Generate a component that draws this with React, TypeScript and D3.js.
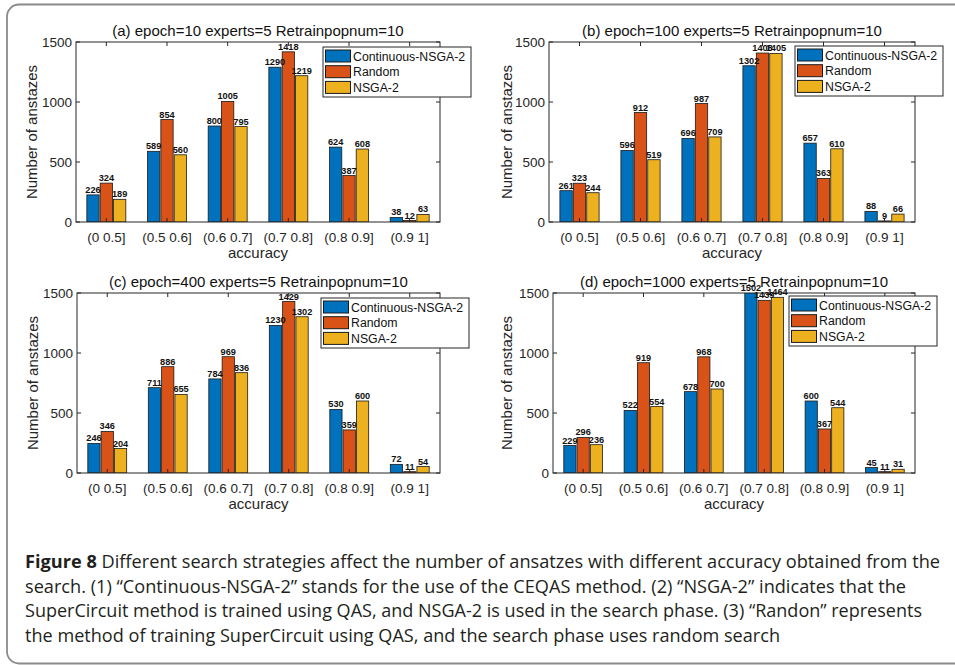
import React from "react";
import * as d3 from "d3";

const categories = ["(0 0.5]", "(0.5 0.6]", "(0.6 0.7]", "(0.7 0.8]", "(0.8 0.9]", "(0.9 1]"];
const seriesNames = ["Continuous-NSGA-2", "Random", "NSGA-2"];
const seriesColors = ["#0072BD", "#D95319", "#EDB120"];
const yTicks = [0, 500, 1000, 1500];
const yMax = 1500;

const panelTitles = [
  "(a) epoch=10 experts=5 Retrainpopnum=10",
  "(b) epoch=100 experts=5 Retrainpopnum=10",
  "(c) epoch=400 experts=5 Retrainpopnum=10",
  "(d) epoch=1000 experts=5 Retrainpopnum=10",
];

const contA = [226, 589, 800, 1290, 624, 38];
const randA = [324, 854, 1005, 1418, 387, 12];
const nsgaA = [189, 560, 795, 1219, 608, 63];

const contB = [261, 596, 696, 1302, 657, 88];
const randB = [323, 912, 987, 1408, 363, 9];
const nsgaB = [244, 519, 709, 1405, 610, 66];

const contC = [246, 711, 784, 1230, 530, 72];
const randC = [346, 886, 969, 1429, 359, 11];
const nsgaC = [204, 655, 836, 1302, 600, 54];

const contD = [229, 522, 678, 1502, 600, 45];
const randD = [296, 919, 968, 1439, 367, 11];
const nsgaD = [236, 554, 700, 1464, 544, 31];

const panelData = [
  [contA, randA, nsgaA],
  [contB, randB, nsgaB],
  [contC, randC, nsgaC],
  [contD, randD, nsgaD],
];

const xLabel = "accuracy";
const yLabel = "Number of anstazes";

const captionLines = [
  { bold: "Figure 8", text: "  Different search strategies affect the number of ansatzes with different accuracy obtained from the" },
  { bold: "", text: "search. (1) \u201CContinuous-NSGA-2\u201D stands for the use of the CEQAS method. (2) \u201CNSGA-2\u201D indicates that the" },
  { bold: "", text: "SuperCircuit method is trained using QAS, and NSGA-2 is used in the search phase. (3) \u201CRandon\u201D represents" },
  { bold: "", text: "the method of training SuperCircuit using QAS, and the search phase uses random search" },
];

// layout
const layouts = [
  { left: 76, right: 440, top: 42, bottom: 222, lx: 323, ly: 47, ylx: 36.5 },
  { left: 549, right: 915, top: 42, bottom: 222, lx: 795, ly: 46, ylx: 512 },
  { left: 77, right: 440, top: 293, bottom: 473, lx: 321, ly: 298, ylx: 37.5 },
  { left: 553, right: 915, top: 293, bottom: 473, lx: 789, ly: 296, ylx: 512 },
];
const captionLayout = [
  { y: 568, len: 915 },
  { y: 593, len: 881 },
  { y: 617, len: 897 },
  { y: 642, len: 755 },
];

const AX = "#262626";
const FONT = "'Liberation Sans', Arial, sans-serif";

function Panel({ idx }: { idx: number }) {
  const L = layouts[idx];
  const data = panelData[idx];
  const x = d3.scaleBand<string>().domain(categories).range([L.left, L.right]).padding(0);
  const bw = x.bandwidth();
  const slot = bw * 0.22;
  const xs = d3
    .scaleBand<string>()
    .domain(seriesNames)
    .range([-1.5 * slot, 1.5 * slot])
    .paddingInner(0.08)
    .paddingOuter(0.04);
  const y = d3.scaleLinear().domain([0, yMax]).range([L.bottom, L.top]);
  const clipId = `clip${idx}`;
  const tl = 4;
  const cx = (L.left + L.right) / 2;
  return (
    <g>
      <defs>
        <clipPath id={clipId}>
          <rect x={L.left} y={L.top} width={L.right - L.left} height={L.bottom - L.top} />
        </clipPath>
      </defs>
      <g clipPath={`url(#${clipId})`}>
        {seriesNames.map((s, si) =>
          categories.map((c, ci) => {
            const v = data[si][ci];
            const x0 = (x(c) as number) + bw / 2 + (xs(s) as number);
            return (
              <rect
                key={s + c}
                x={x0}
                y={y(v)}
                width={xs.bandwidth()}
                height={L.bottom - y(v)}
                fill={seriesColors[si]}
                stroke="#1a1a1a"
                strokeWidth={0.8}
              />
            );
          })
        )}
      </g>
      {/* axes box */}
      <rect x={L.left} y={L.top} width={L.right - L.left} height={L.bottom - L.top} fill="none" stroke={AX} strokeWidth={1} />
      {yTicks.map((t) => (
        <g key={"yt" + t}>
          <line x1={L.left} x2={L.left + tl} y1={y(t)} y2={y(t)} stroke={AX} />
          <line x1={L.right} x2={L.right - tl} y1={y(t)} y2={y(t)} stroke={AX} />
          <text x={L.left - 4} y={y(t) + 5} textAnchor="end" fontSize={13.5} fill={AX} fontFamily={FONT}>
            {t}
          </text>
        </g>
      ))}
      {categories.map((c) => {
        const xc = (x(c) as number) + bw / 2;
        return (
          <g key={"xt" + c}>
            <line x1={xc} x2={xc} y1={L.bottom} y2={L.bottom - tl} stroke={AX} />
            <line x1={xc} x2={xc} y1={L.top} y2={L.top + tl} stroke={AX} />
            <text x={xc} y={L.bottom + 19.5} textAnchor="middle" fontSize={13.5} fill={AX} fontFamily={FONT}>
              {c}
            </text>
          </g>
        );
      })}
      {/* bar labels */}
      {seriesNames.map((s, si) =>
        categories.map((c, ci) => {
          const v = data[si][ci];
          const xc = (x(c) as number) + bw / 2 + (xs(s) as number) + xs.bandwidth() / 2;
          return (
            <text
              key={"bl" + s + c}
              x={xc}
              y={y(v) - 2}
              textAnchor="middle"
              fontSize={9.2}
              fontWeight="bold"
              fill="#111"
              fontFamily={FONT}
            >
              {v}
            </text>
          );
        })
      )}
      <text x={cx} y={L.top - 6} textAnchor="middle" fontSize={15} fill="#111" fontFamily={FONT}>
        {panelTitles[idx]}
      </text>
      <text x={cx} y={L.bottom + 36} textAnchor="middle" fontSize={15} fill={AX} fontFamily={FONT}>
        {xLabel}
      </text>
      <text
        transform={`translate(${L.ylx},${(L.top + L.bottom) / 2}) rotate(-90)`}
        textAnchor="middle"
        fontSize={15}
        fill={AX}
        fontFamily={FONT}
      >
        {yLabel}
      </text>
      {/* legend */}
      <g transform={`translate(${L.lx},${L.ly})`}>
        <rect x={0} y={0} width={148} height={50} fill="white" stroke={AX} strokeWidth={1} />
        {seriesNames.map((s, si) => (
          <g key={"lg" + s} transform={`translate(0,${9 + si * 15.7})`}>
            <rect x={2.5} y={-6} width={25} height={12} fill={seriesColors[si]} stroke="#1a1a1a" strokeWidth={1} />
            <text x={30} y={4.5} fontSize={12.3} fill="#111" fontFamily={FONT}>
              {s}
            </text>
          </g>
        ))}
      </g>
    </g>
  );
}

export default function App() {
  return (
    <svg
      width={955}
      height={665}
      style={{ position: "absolute", left: 0, top: 0, background: "white" }}
      viewBox="0 0 955 665"
    >
      <rect x={0} y={0} width={955} height={665} fill="white" />
      <rect x={7} y={4.5} width={980} height={659} rx={12} ry={12} fill="none" stroke="#8a8a8a" strokeWidth={1.8} />
      {layouts.map((_, i) => (
        <Panel key={i} idx={i} />
      ))}
      {captionLines.map((ln, i) => (
        <text
          key={"cap" + i}
          x={25}
          y={captionLayout[i].y}
          fontSize={18}
          fill="#231f20"
          fontFamily="'Open Sans', 'Noto Sans', sans-serif"
          textLength={captionLayout[i].len}
          lengthAdjust="spacingAndGlyphs"
        >
          {ln.bold ? <tspan fontWeight="bold">{ln.bold}</tspan> : null}
          <tspan>{ln.text}</tspan>
        </text>
      ))}
    </svg>
  );
}
